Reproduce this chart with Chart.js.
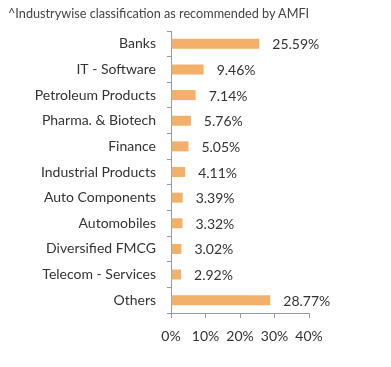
<!DOCTYPE html>
<html>
<head>
<meta charset="utf-8">
<script src="https://cdn.jsdelivr.net/npm/chart.js@4/dist/chart.umd.min.js"></script>
<style>
  html, body { margin: 0; padding: 0; background: #fff; }
  #wrap { position: relative; width: 391px; height: 367px; }
  #note { position: absolute; left: 8px; top: 5px; font: 12.7px Lato, sans-serif; color: #444; }
</style>
</head>
<body>
<div id="wrap">
  <div id="note">^Industrywise classification as recommended by AMFI</div>
  <canvas id="c" width="391" height="367"></canvas>
</div>
<script>
// sector weights (% of net assets)
const sectors = ['Banks', 'IT - Software', 'Petroleum Products', 'Pharma. & Biotech', 'Finance',
  'Industrial Products', 'Auto Components', 'Automobiles', 'Diversified FMCG', 'Telecom - Services', 'Others'];
const weights = [25.59, 9.46, 7.14, 5.76, 5.05, 4.11, 3.39, 3.32, 3.02, 2.92, 28.77];
const xTicks = [0, 10, 20, 30, 40];

const barColor = '#F2B06B';
const axisColor = '#9a9a9a';
const ink = '#333';
const font = 'Lato, sans-serif';

// value labels at the end of each bar
const valueLabels = {
  id: 'valueLabels',
  afterDatasetsDraw(chart) {
    const { ctx } = chart;
    const meta = chart.getDatasetMeta(0);
    ctx.save();
    ctx.font = `14px ${font}`;
    ctx.fillStyle = ink;
    ctx.textBaseline = 'middle';
    meta.data.forEach((bar, i) => {
      ctx.fillText(weights[i].toFixed(2) + '%', bar.x + 13, bar.y + 1);
    });
    ctx.restore();
  },
};

new Chart(document.getElementById('c'), {
  type: 'bar',
  data: {
    labels: sectors,
    datasets: [{ data: weights, backgroundColor: barColor, categoryPercentage: 1, barPercentage: 0.39 }],
  },
  options: {
    indexAxis: 'y',
    responsive: false, animation: false,
    layout: { padding: { top: 31, right: 82, left: 0, bottom: 0 } },
    plugins: { legend: { display: false }, tooltip: { enabled: false } },
    scales: {
      x: {
        min: 0, max: 40,
        afterBuildTicks: (s) => { s.ticks = xTicks.map((v) => ({ value: v })); },
        afterFit: (s) => { s.height = 54; },
        ticks: { color: ink, padding: 10, font: { family: font, size: 14 }, callback: (v) => v + '%' },
        grid: { drawOnChartArea: false, tickLength: 5, color: axisColor },
        border: { color: axisColor },
      },
      y: {
        afterFit: (s) => { s.width = 171; },
        ticks: { color: ink, padding: 11, font: { family: font, size: 14 } },
        grid: { drawOnChartArea: false, tickLength: 4, color: axisColor, offset: true },
        border: { color: axisColor },
      },
    },
  },
  plugins: [valueLabels],
});
</script>
</body>
</html>
